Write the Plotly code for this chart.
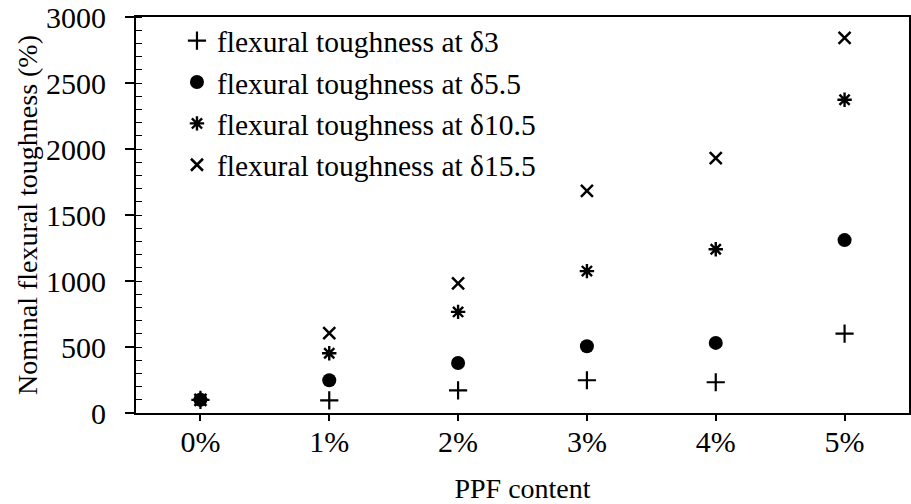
import plotly.graph_objects as go

categories = ["0%", "1%", "2%", "3%", "4%", "5%"]
tough_d3 = [100, 96, 172, 248, 233, 602]
tough_d55 = [100, 248, 379, 506, 531, 1310]
tough_d105 = [100, 453, 766, 1075, 1240, 2373]
tough_d155 = [100, 605, 982, 1682, 1930, 2841]

names = ["flexural toughness at δ3", "flexural toughness at δ5.5",
         "flexural toughness at δ10.5", "flexural toughness at δ15.5"]

FONT = "Liberation Serif, Times New Roman, serif"

fig = go.Figure()
fig.add_trace(go.Scatter(x=categories, y=tough_d3, mode="markers", name=names[0],
                         marker=dict(symbol="cross-thin-open", size=13, color="black",
                                     line=dict(color="black", width=2.2))))
fig.add_trace(go.Scatter(x=categories, y=tough_d55, mode="markers", name=names[1],
                         marker=dict(symbol="circle", size=14, color="black",
                                     line=dict(width=0))))
fig.add_trace(go.Scatter(x=categories, y=tough_d105, mode="markers", name=names[2],
                         marker=dict(symbol="asterisk-open", size=12, color="black",
                                     line=dict(color="black", width=2.4))))
fig.add_trace(go.Scatter(x=categories, y=tough_d155, mode="markers", name=names[3],
                         marker=dict(symbol="x-thin-open", size=12, color="black",
                                     line=dict(color="black", width=2.5))))

fig.update_layout(
    width=911, height=504,
    margin=dict(l=136, r=2, t=17, b=91),
    paper_bgcolor="white", plot_bgcolor="white",
    font=dict(family=FONT, size=30, color="black"),
    showlegend=True,
    legend=dict(x=0.053, y=1.005, xanchor="left", yanchor="top",
                bgcolor="rgba(0,0,0,0)", font=dict(family=FONT, size=29.5, color="black")),
    xaxis=dict(type="category", range=[-0.5, 5.5], showgrid=False, zeroline=False,
               automargin=False, ticklabeloverflow="allow",
               showline=True, linecolor="black", linewidth=2, mirror=True,
               ticks="outside", ticklen=6, tickwidth=1.5, tickcolor="black",
               ticklabelstandoff=-5,
               title=dict(text="PPF content", standoff=25, font=dict(family=FONT, size=28)),
               tickfont=dict(family=FONT, size=30)),
    yaxis=dict(range=[0, 3000], dtick=500, showgrid=False, zeroline=False,
               automargin=False, ticklabeloverflow="allow",
               showline=True, linecolor="black", linewidth=2, mirror=True,
               ticks="outside", ticklen=9, tickwidth=1.5, tickcolor="black",
               ticklabelstandoff=13,
               minor=dict(ticks="inside", dtick=100, ticklen=6, tickwidth=1.2,
                          tickcolor="black", showgrid=False),
               title=dict(text="Nominal flexural toughness (%)", standoff=0,
                          font=dict(family=FONT, size=28)),
               tickfont=dict(family=FONT, size=30)),
)

# remove the default page margin so the 911x504 figure fills the window exactly
fig.write_html("out.html", config={"displayModeBar": False},
               post_script="document.body.style.margin='0px';")
